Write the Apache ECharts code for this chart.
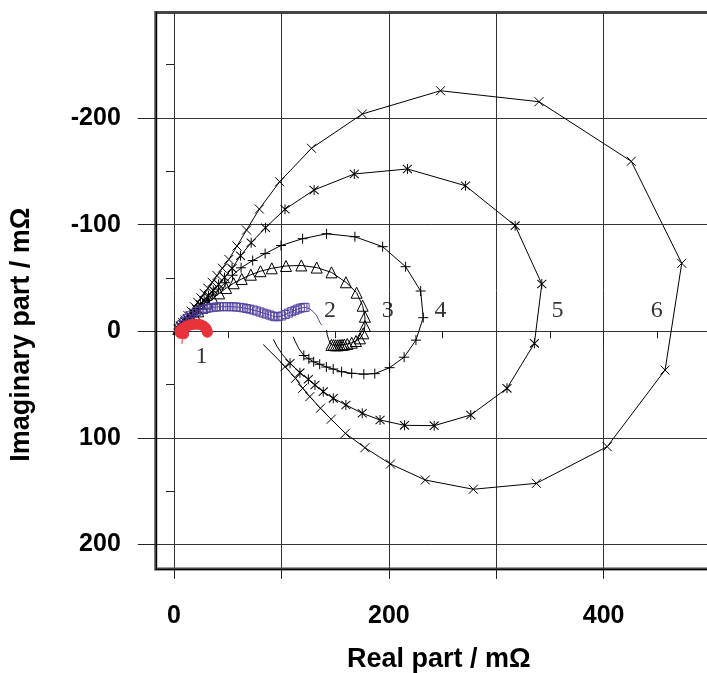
<!DOCTYPE html>
<html>
<head>
<meta charset="utf-8">
<script src="https://cdn.jsdelivr.net/npm/echarts@6/dist/echarts.min.js"></script>
<style>
html,body{margin:0;padding:0;background:#fff;}
#chart{width:707px;height:673px;}
</style>
</head>
<body>
<div id="chart"></div>
<script>
// ---- data (Real part, Imaginary part) in mΩ ----
var curve1 = [[9,2.5],[6,2],[5.5,0],[6.5,-1],[8,-2.5],[10,-4],[12.5,-5],[15,-5.8],[17.5,-6.3],[20,-6.6],[22.5,-6.6],[25,-6],[27.5,-4.8],[29.5,-3],[30.5,-1],[31,1]];
var curve1Tail = [[7.8,3],[7.6,8],[7.3,12]];
var curve2 = [[5,-3],[7,-6],[9.5,-9],[12,-12],[15,-14.5],[18,-16.8],[21,-18.5],[24,-19.8],[27.2,-20.6],[30.5,-21.4],[33.5,-22],[36.5,-22.4],[39.5,-22.7],[42.5,-22.9],[46,-23],[49,-23],[52,-23],[55,-22.9],[58,-22.7],[61.4,-22.4],[64.5,-21.9],[67.5,-21.3],[70.5,-20.7],[73.7,-19.9],[76.8,-19],[80,-18],[83,-17],[86.2,-16.1],[89,-15.2],[91.5,-14.3],[94,-13.6],[97,-13.6],[100.2,-14.3],[103.5,-15.6],[106.5,-17],[109.5,-18.3],[112.5,-19.6],[115,-20.7],[117.5,-21.6],[120,-22.1],[122,-22.4]];
var curve2Tail = [[122,-22.4],[126,-21.3],[129.6,-18.3],[132.5,-15],[134.5,-11],[136,-8],[137.4,-5.8]];
var curve3 = [[4,-2],[6,-3.8],[8,-5.6],[10.5,-7.8],[13,-10],[16,-12.8],[19,-15.5],[22.5,-18.6],[26.5,-22],[31,-26],[36,-30.5],[42,-35.5],[48.5,-40.5],[55.5,-45],[63,-49],[71.5,-53],[80.5,-56.3],[91,-59],[104.2,-61.2],[118.5,-61.7],[132.8,-59.7],[146.6,-55.2],[160,-45.9],[170,-36.1],[175.6,-23.9],[177.7,-13.6],[177.7,-4.9],[176.2,2],[173.1,6.7],[169.4,9.2],[165.4,10.8],[161.3,12],[158.5,12.5],[156.5,12.8],[154.5,13],[152.5,13.2],[150.5,13.2],[148.5,13],[146.5,12.8]];
var curve3Tail = [[146.5,12.8],[144,8],[142.5,3],[142,-1]];
var curve4 = [[4,-2],[6,-4],[8,-6],[10.5,-8.5],[13,-11],[16,-14],[19,-17],[22.5,-20.5],[26.5,-24.5],[31,-29],[36,-34],[41.5,-39.5],[47.5,-45.5],[54.5,-52.5],[62.4,-59.5],[73.2,-66.3],[84.8,-72.8],[99.6,-80.4],[119.7,-86.8],[142,-91.4],[168.4,-88.6],[194.2,-79.3],[215.6,-60.5],[229.6,-37.7],[232,-12.7],[225.2,8.4],[214.2,24.4],[200.7,34.2],[186.9,39.8],[176.7,40.3],[165.4,39.5],[156,38],[148.2,35.5],[141.8,33.6],[135.6,31],[130,28.7],[125.5,25.9],[120.8,22.8]];
var curve4Tail = [[120.8,22.8],[116,16],[113,10],[111,5.2]];
var curve5 = [[4,-2],[6,-4.5],[8,-6.5],[10,-9],[12.5,-11.5],[15,-14.5],[18,-17.5],[21,-21],[24.5,-25],[28,-29],[32,-33.5],[36.5,-38.5],[41.5,-44],[47,-50.5],[54,-59],[61.9,-70.8],[71.8,-83],[85.1,-97.1],[103.3,-114.4],[130.4,-132.5],[167.8,-147.5],[217.3,-152.2],[271.3,-136.5],[317.6,-99],[342.4,-44.3],[335.5,11.4],[310,53.6],[276.3,78.6],[242.2,88.6],[214.5,88.3],[191.8,83.3],[175.2,77],[160,69.2],[148.2,63],[138.9,56.7],[131.2,50.5],[125,45.1],[117.2,38.9],[108,30.1]];
var curve5Tail = [[108,30.1],[101,22],[96,14.5],[92.4,7.6]];
var curve6 = [[4,-2],[6,-5],[8,-8],[10,-10.5],[13,-14.6],[16,-18.8],[19,-23],[22,-27.1],[25,-31.3],[28,-35.5],[31.5,-40.3],[35.5,-45.9],[40,-52.2],[45,-59.1],[51,-67.4],[58.6,-79.9],[67.5,-94.9],[79.4,-114.6],[98.3,-140.2],[128,-171.6],[175.3,-203.8],[248.1,-225.6],[339.8,-215.3],[425.7,-159.4],[472.7,-63.7],[457.2,36.4],[403.3,108.3],[337.4,142.7],[278.6,148.3],[233.9,139.6],[201.5,124.6],[177.7,109.3],[159.5,95.8],[146.3,82.6],[136.3,72.3],[126.4,61.4],[119.8,53.6],[113.1,44.2],[103.3,33.3]];
var curve6Tail = [[103.3,33.3],[96,25.5],[89,18.5],[83,12.5]];

var curveNames = ['1','2','3','4','5','6'];
var curveNameX = [25.5,145.3,198.9,248.1,357,449.5];
var curveNameY = [23.9,-19.2,-19.2,-19.2,-19.2,-19.2];

var xMajorTicks = [0,100,200,300,400,500];
var xMinorTicks = [50,150,250,350,450];
var xLabelTicks = [0,200,400];
var yMajorTicks = [-200,-100,0,100,200];
var yMinorTicks = [-250,-150,-50,50,150];

// ---- chart ----
var SYM_X = 'path://M0,0L10,10M10,0L0,10';
var SYM_PLUS = 'path://M5,0L5,10M0,5L10,5';
var SYM_STAR = 'path://M0,1L10,11M10,1L0,11M5,0L5,12';
var PURPLE = '#5540a0';
var RED = '#e8333b';

function curve(data, symbol, size, fill, stroke, lineColor, z) {
  return {
    type: 'line', data: data, symbol: symbol, symbolSize: size,
    showSymbol: true, z: z || 2,
    lineStyle: {color: lineColor, width: 1},
    itemStyle: {color: fill, borderColor: stroke, borderWidth: 1}
  };
}
function tail(data, color, z) {
  return {type: 'line', data: data, symbol: 'none', z: z || 2,
    lineStyle: {color: color, width: 1}, itemStyle: {color: color}};
}

var labelData = curveNames.map(function (n, i) { return {name: n, value: [curveNameX[i], curveNameY[i]]}; });

var font = 'Liberation Sans, Arial, sans-serif';
var chart = echarts.init(document.getElementById('chart'), null, {renderer: 'canvas'});
chart.setOption({
  animation: false,
  backgroundColor: '#fff',
  grid: {left: 155.8, top: 12.5, right: -14.8, bottom: 104.1, show: true,
         outerBoundsMode: 'none', containLabel: false,
         borderColor: '#444', borderWidth: 3, backgroundColor: '#fff'},
  xAxis: [
    {type: 'value', min: -17, max: 510, position: 'bottom',
     name: 'Real part / m\u03A9', nameLocation: 'middle', nameGap: 77,
     nameTextStyle: {fontFamily: font, fontWeight: 'bold', fontSize: 27, color: '#000'},
     axisLine: {show: true, onZero: false, lineStyle: {color: '#000', width: 1}},
     axisTick: {show: true, length: 10, customValues: xMajorTicks, lineStyle: {color: '#222'}},
     axisLabel: {show: true, customValues: xLabelTicks, margin: 35, fontFamily: font, fontWeight: 'bold', fontSize: 25, color: '#000'},
     splitLine: {show: true, lineStyle: {color: '#333', width: 1}}},
    {type: 'value', min: -17, max: 510, position: 'bottom', offset: 0,
     axisLine: {show: false}, axisLabel: {show: false}, splitLine: {show: false},
     axisTick: {show: true, length: 7, customValues: xMinorTicks, lineStyle: {color: '#222'}}},
    {type: 'value', min: -17, max: 510, position: 'bottom', offset: 0,
     axisLine: {show: false}, axisLabel: {show: false}, splitLine: {show: false},
     axisTick: {show: true, length: 16, customValues: xLabelTicks, lineStyle: {color: '#222'}}}
  ],
  yAxis: [
    {type: 'value', min: -299, max: 223, inverse: true, position: 'left',
     name: 'Imaginary part / m\u03A9', nameLocation: 'middle', nameGap: 121,
     nameTextStyle: {fontFamily: font, fontWeight: 'bold', fontSize: 27, color: '#000', padding: [0, 88, 0, 0]},
     axisLine: {show: true, onZero: false, lineStyle: {color: '#000', width: 1}},
     axisTick: {show: true, length: 18, customValues: yMajorTicks, lineStyle: {color: '#222'}},
     axisLabel: {show: true, customValues: yMajorTicks, margin: 35, padding: [8, 0, 0, 0], fontFamily: font, fontWeight: 'bold', fontSize: 25, color: '#000'},
     splitLine: {show: true, lineStyle: {color: '#333', width: 1}}},
    {type: 'value', min: -299, max: 223, inverse: true, position: 'left', offset: 0,
     axisLine: {show: false}, axisLabel: {show: false}, splitLine: {show: false},
     axisTick: {show: true, length: 8, customValues: yMinorTicks, lineStyle: {color: '#222'}}}
  ],
  series: [
    curve(curve6, SYM_X, 9, '#000', '#000', '#000'),
    tail(curve6Tail, '#000'),
    curve(curve5, SYM_STAR, [9, 10], '#000', '#000', '#000'),
    tail(curve5Tail, '#000'),
    curve(curve4, SYM_PLUS, 10, '#000', '#000', '#000'),
    tail(curve4Tail, '#000'),
    curve(curve3, 'triangle', 11, 'rgba(255,255,255,0)', '#000', '#000'),
    tail(curve3Tail, '#000'),
    curve(curve2, 'rect', 8, 'rgba(255,255,255,0)', PURPLE, PURPLE, 3),
    tail(curve2Tail, PURPLE, 3),
    curve(curve1, 'circle', 10, RED, RED, RED, 4),
    tail(curve1Tail, RED, 4),
    {type: 'scatter', data: labelData, symbol: 'circle', symbolSize: 1, z: 5,
     itemStyle: {color: 'rgba(0,0,0,0)'},
     label: {show: true, position: 'inside', formatter: '{b}',
             fontFamily: 'Liberation Serif, Times New Roman, serif', fontSize: 24, color: '#000'}}
  ]
});
</script>
</body>
</html>
